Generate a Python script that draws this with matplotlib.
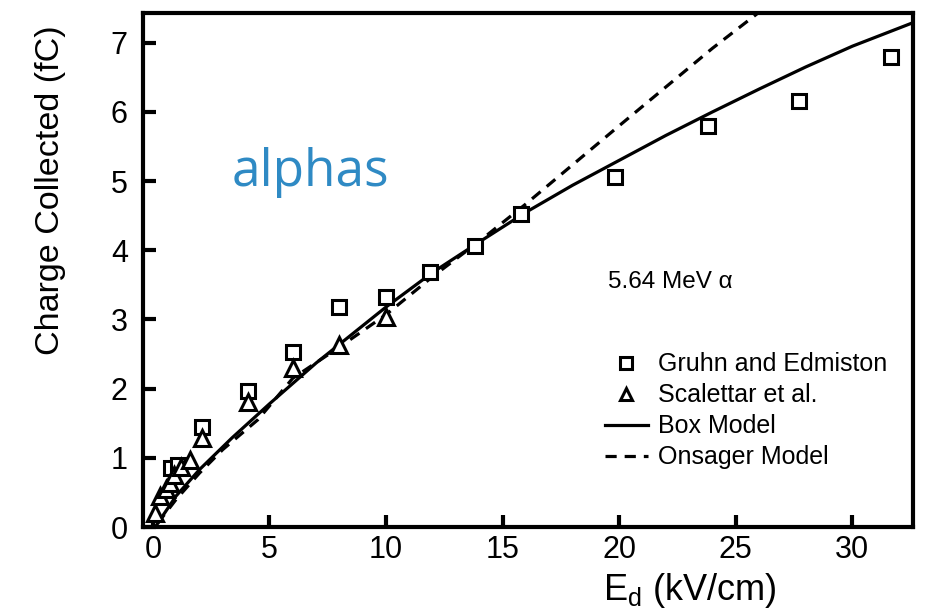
import matplotlib
matplotlib.use("Agg")
import matplotlib.pyplot as plt

plt.rcParams["font.family"] = ["Liberation Sans", "DejaVu Sans"]
plt.rcParams["mathtext.default"] = "regular"

# Gruhn and Edmiston (squares)
gruhn_e = [0.8, 1.1, 2.1, 4.1, 6.0, 8.0, 10.0, 11.9, 13.8, 15.8, 19.8, 23.8, 27.7, 31.65]
gruhn_q = [0.85, 0.90, 1.45, 1.97, 2.53, 3.18, 3.33, 3.69, 4.06, 4.53, 5.06, 5.79, 6.16, 6.80]

# Scalettar et al. (triangles)
scal_e = [0.1, 0.3, 0.55, 0.75, 0.9, 1.2, 1.6, 2.1, 4.1, 6.0, 8.0, 10.0]
scal_q = [0.2, 0.45, 0.55, 0.63, 0.75, 0.87, 0.97, 1.29, 1.81, 2.30, 2.63, 3.04]

# Box model (solid)
box_e = [0.1, 1.0, 2.0, 3.4, 5.0, 7.0, 10.0, 12.0, 14.0, 16.0, 18.0, 20.0, 22.0,
         24.0, 26.0, 28.0, 30.0, 32.6]
box_q = [0.0, 0.45, 0.83, 1.29, 1.78, 2.37, 3.18, 3.68, 4.12, 4.55, 4.94, 5.30, 5.66,
         6.00, 6.33, 6.65, 6.95, 7.29]

# Onsager model (dashed)
ons_e = [0.2, 1.0, 2.0, 3.0, 4.5, 6.0, 8.0, 10.0, 12.0, 14.0, 16.0, 20.0, 24.0, 26.8]
ons_q = [0.05, 0.40, 0.78, 1.12, 1.55, 2.15, 2.60, 3.07, 3.62, 4.13, 4.67, 5.80, 6.92, 7.65]

fig = plt.figure(figsize=(9.3, 6.1), dpi=100)
ax = fig.add_axes([0.1538, 0.136, 0.8279, 0.8427])

ax.plot(box_e, box_q, color="black", lw=2.3, label="Box Model", zorder=2)
ax.plot(ons_e, ons_q, color="black", lw=2.3, ls=(0, (3.5, 2.5)), label="Onsager Model", zorder=2)
ax.plot(gruhn_e, gruhn_q, ls="none", marker="s", ms=10, mfc="white", mec="black", mew=2.2,
        label="Gruhn and Edmiston", zorder=3)
ax.plot(scal_e, scal_q, ls="none", marker="^", ms=11, mfc="white", mec="black", mew=2.2,
        label="Scalettar et al.", zorder=3)

ax.set_xlim(-0.42, 32.6)
ax.set_ylim(0, 7.43)
ax.set_xticks([0, 5, 10, 15, 20, 25, 30])
ax.set_yticks([0, 1, 2, 3, 4, 5, 6, 7])

for s in ax.spines.values():
    s.set_linewidth(3)
ax.tick_params(direction="in", length=9, width=3, labelsize=22)
ax.tick_params(axis="x", pad=6)
ax.tick_params(axis="y", pad=11)

ax.set_ylabel("Charge Collected (fC)", fontsize=24.5)
ax.yaxis.set_label_coords(-0.1, 0.656)
fig.text(0.648, 0.0164, r"E$_d$ (kV/cm)", fontsize=26, ha="left", va="baseline")

ax.text(0.115, 0.69, "alphas", transform=ax.transAxes, fontsize=37, color="#2f8ac4",
        family="Open Sans", va="center")
ax.text(0.604, 0.476, "5.64 MeV \u03b1", transform=ax.transAxes, fontsize=17.5, va="center")

h, l = ax.get_legend_handles_labels()
order = [2, 3, 0, 1]
ax.legend([h[i] for i in order], [l[i] for i in order], loc="upper left",
          bbox_to_anchor=(0.6, 0.34), frameon=False, fontsize=18, handlelength=1.7,
          handletextpad=0.4, labelspacing=0.28, borderpad=0, borderaxespad=0,
          markerscale=0.8)

fig.savefig("out.png", dpi=100)
